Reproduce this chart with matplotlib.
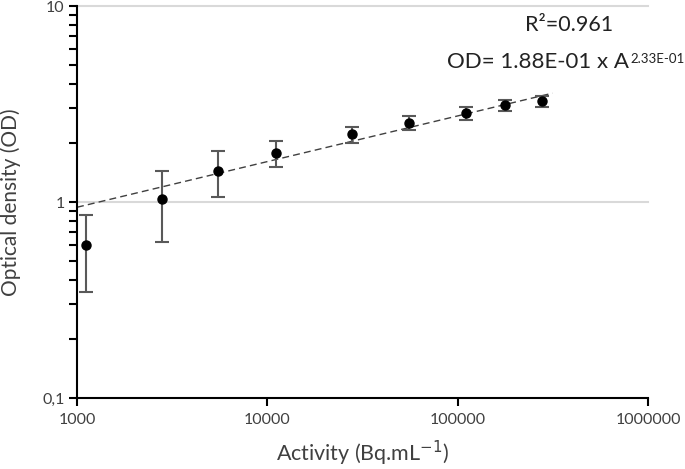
import matplotlib
matplotlib.use("Agg")
import matplotlib.pyplot as plt
import numpy as np
from matplotlib.ticker import FixedLocator, FixedFormatter, NullLocator

activity = [1115, 2780, 5520, 11090, 27700, 55300, 111000, 178000, 277000]
od = [0.60, 1.036, 1.445, 1.77, 2.22, 2.52, 2.83, 3.11, 3.29]
od_upper = [0.86, 1.445, 1.83, 2.05, 2.42, 2.75, 3.06, 3.31, 3.49]
od_lower = [0.346, 0.627, 1.064, 1.50, 2.01, 2.33, 2.62, 2.91, 3.06]
fit_a = 0.188
fit_b = 0.233
fit_range = [1000, 315000]
x_ticks = [1e3, 1e4, 1e5, 1e6]
x_labels = ['1000', '10000', '100000', '1000000']
y_decades = [0.1, 1, 10]
y_labels = ['0,1', '1', '10']

plt.rcParams['font.family'] = ['Lato', 'DejaVu Sans']

fig = plt.figure(figsize=(6.85, 4.69), dpi=100)
ax = fig.add_axes([77/685, 1-398/469, (648-77)/685, (398-6)/469])

od_arr = np.array(od)
yerr = [od_arr - np.array(od_lower), np.array(od_upper) - od_arr]

ax.set_xscale('log')
ax.set_yscale('log')
ax.set_xlim(1000, 1e6)
ax.set_ylim(0.1, 10)

for yv in y_decades[1:]:
    ax.axhline(yv, color='#d9d9d9', lw=1.5, zorder=0, clip_on=False)

xf = np.logspace(np.log10(fit_range[0]), np.log10(fit_range[1]), 100)
ax.plot(xf, fit_a * xf ** fit_b, ls=(0, (5, 3)), color='#404040', lw=1.0, zorder=2)

ax.errorbar(activity, od, yerr=yerr, fmt='o', color='black', ms=6.5,
            ecolor='#595959', elinewidth=1.5, capsize=5, capthick=1.5, zorder=3)

for s in ['top', 'right']:
    ax.spines[s].set_visible(False)
for s in ['left', 'bottom']:
    ax.spines[s].set_linewidth(1.5)
    ax.spines[s].set_color('black')

ax.xaxis.set_major_locator(FixedLocator(x_ticks))
ax.xaxis.set_major_formatter(FixedFormatter(x_labels))
ax.xaxis.set_minor_locator(NullLocator())

# decades labelled; intermediate log ticks unlabelled
y_all = []
y_all_labels = []
for i, d in enumerate(y_decades):
    y_all.append(d)
    y_all_labels.append(y_labels[i])
    if i < len(y_decades) - 1:
        for m in range(2, 10):
            y_all.append(m * d)
            y_all_labels.append('')
ax.yaxis.set_major_locator(FixedLocator(y_all))
ax.yaxis.set_major_formatter(FixedFormatter(y_all_labels))
ax.yaxis.set_minor_locator(NullLocator())

ax.tick_params(axis='x', which='major', direction='out', length=6, width=1.5,
               color='black', labelsize=11.5, labelcolor='#404040', pad=5)
ax.tick_params(axis='y', which='major', direction='out', length=6, width=1.5,
               color='black', labelsize=11.5, labelcolor='#404040', pad=3)

ax.set_xlabel('Activity (Bq.mL$^{\\mathrm{-1}}$)', fontsize=15.5, color='#404040', labelpad=8)
ax.set_ylabel('Optical density (OD)', fontsize=15, color='#404040')
ax.yaxis.set_label_coords((21-77)/571, 0.5)

ax.text(569/685, 1-25/469, 'R²=0.961', transform=fig.transFigure, fontsize=15.5,
        ha='center', va='center', color='#222222')
main = ax.text(447/685, 1-62/469, 'OD= 1.88E-01 x A', transform=fig.transFigure,
               fontsize=16, ha='left', va='center', color='#222222')
ax.annotate('2.33E-01', xy=(1, 1), xycoords=main, xytext=(1, -1),
            textcoords='offset points', fontsize=9.5, ha='left', va='top',
            color='#222222')

fig.savefig('out.png', dpi=100)
